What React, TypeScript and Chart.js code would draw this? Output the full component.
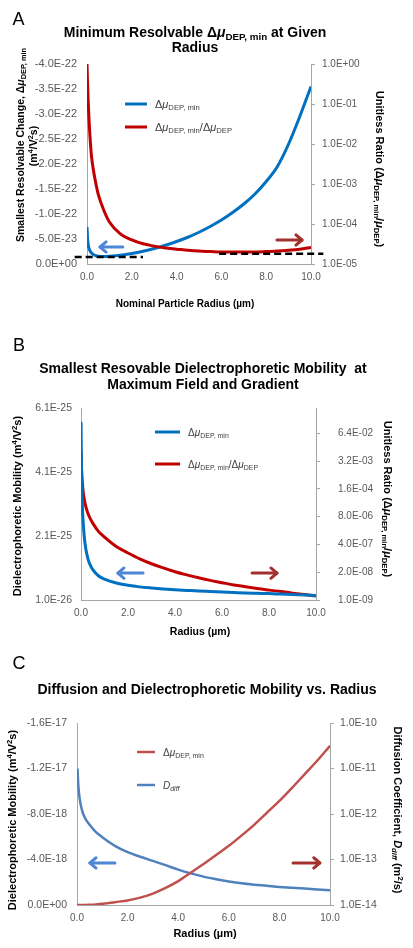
import React, { useEffect, useRef } from "react";
import { Chart, registerables } from "chart.js";

Chart.register(...registerables);

const FONT = '"Liberation Sans", Arial, Helvetica, sans-serif';
Chart.defaults.font.family = FONT;
const PAGE_W = 413;

// ===================== DATA =====================
// Panel A  (radius in µm)
const radiusA = [0, 0.02, 0.05, 0.1, 0.15, 0.2, 0.3, 0.4, 0.5, 0.75, 1, 1.5, 2, 2.5, 3, 3.5, 4, 4.5, 5, 5.5, 6, 6.5, 7, 7.5, 8, 8.5, 9, 9.5, 10];
// Δμ_DEP,min in units of 1e-23 m^4/V^2s (left axis)
const A_LEFT_UNIT = 1e-23;
const muMinA = [-7.4, -5.5, -4.0, -3.0, -2.5, -2.2, -1.85, -1.65, -1.55, -1.5, -1.55, -1.75, -2.1, -2.55, -3.1, -3.75, -4.5, -5.35, -6.35, -7.5, -8.8, -10.3, -12.0, -14.0, -16.5, -19.5, -24.0, -29.5, -35.5];
// Δμ_DEP,min / Δμ_DEP (right log axis)
const ratioA = [1.0, 0.4, 0.126, 0.0316, 0.0112, 5.0e-3, 2.0e-3, 1.0e-3, 5.6e-4, 2.2e-4, 1.12e-4, 5.6e-5, 4.0e-5, 3.2e-5, 2.8e-5, 2.5e-5, 2.35e-5, 2.2e-5, 2.1e-5, 2.05e-5, 2.0e-5, 2.0e-5, 2.0e-5, 2.0e-5, 2.05e-5, 2.1e-5, 2.2e-5, 2.35e-5, 2.6e-5];
const A_LEFT_TICKS = [-40, -35, -30, -25, -20, -15, -10, -5, 0];
const A_RIGHT_TICKS = [1e-5, 1e-4, 1e-3, 1e-2, 1e-1, 1];
// dashed threshold lines: [radius from, radius to], level
const dashLeftRangeA = [-0.55, 2.5];
const dashLeftLevelA = -1.4;
const dashRightRangeA = [5.9, 10.55];
const dashRightLevelA = 1.8e-5;

// Panel B
const radiusB = [0, 0.02, 0.05, 0.1, 0.15, 0.2, 0.3, 0.4, 0.5, 0.75, 1, 1.5, 2, 2.5, 3, 3.5, 4, 4.5, 5, 5.5, 6, 6.5, 7, 7.5, 8, 8.5, 9, 9.5, 10];
// Δμ_DEP,min in units of 1e-26 m^4/V^2s
const B_LEFT_UNIT = 1e-26;
const muMinB = [56.6, 43, 32, 24.5, 20, 17.2, 13.8, 11.8, 10.5, 8.5, 7.5, 6.3, 5.6, 5.1, 4.75, 4.45, 4.2, 4.0, 3.8, 3.65, 3.5, 3.35, 3.2, 3.1, 3.0, 2.85, 2.7, 2.55, 2.4];
const ratioB = [1.0e-2, 1.6e-3, 4.0e-4, 1.0e-4, 4.5e-5, 2.5e-5, 1.1e-5, 6.3e-6, 4.0e-6, 1.6e-6, 8.9e-7, 3.2e-7, 1.6e-7, 8.5e-8, 5.0e-8, 3.2e-8, 2.1e-8, 1.5e-8, 1.1e-8, 8.3e-9, 6.5e-9, 5.1e-9, 4.2e-9, 3.5e-9, 2.9e-9, 2.5e-9, 2.1e-9, 1.8e-9, 1.55e-9];
const B_LEFT_TICKS = [1, 21, 41, 61];
const B_RIGHT_TICKS = [1e-9, 2e-8, 4e-7, 8e-6, 1.6e-4, 3.2e-3, 6.4e-2];

// Panel C
const radiusC = [0, 0.02, 0.05, 0.1, 0.2, 0.3, 0.5, 0.75, 1, 1.5, 2, 2.5, 3, 3.5, 4, 4.5, 5, 5.5, 6, 6.5, 7, 7.5, 8, 8.5, 9, 9.5, 10];
// Δμ_DEP,min in units of 1e-18 m^4/V^2s
const C_LEFT_UNIT = 1e-18;
const muMinC = [0, 0, 0, 0, -0.002, -0.005, -0.02, -0.05, -0.1, -0.25, -0.4, -0.65, -1.0, -1.5, -2.1, -2.85, -3.6, -4.4, -5.2, -6.1, -7.05, -8.1, -9.15, -10.3, -11.5, -12.7, -14.0];
// D_diff in m^2/s
const dDiffC = [null, 1.0e-11, 4.5e-12, 2.3e-12, 1.2e-12, 8.5e-13, 5.8e-13, 4.0e-13, 3.1e-13, 2.0e-13, 1.45e-13, 1.15e-13, 9.3e-14, 7.5e-14, 6.0e-14, 4.95e-14, 4.2e-14, 3.7e-14, 3.3e-14, 3.0e-14, 2.8e-14, 2.65e-14, 2.5e-14, 2.4e-14, 2.3e-14, 2.2e-14, 2.1e-14];
const C_LEFT_TICKS = [-16, -12, -8, -4, 0];
const C_RIGHT_TICKS = [1e-14, 1e-13, 1e-12, 1e-11, 1e-10];

const X_TICKS = [0, 2, 4, 6, 8, 10];

// ===================== STYLE =====================
const BLUE = "#0070c0";
const RED = "#c00000";
const BLUE_C = "#4f81bd";
const RED_C = "#c0504d";
const ARROW_BLUE = "#4f86d6";
const ARROW_RED = "#a3302c";
const TICK_COLOR = "#595959";
const AXIS_COLOR = "#a6a6a6";
const LEGEND_COLOR = "#404040";

type Seg = { t: string; sub?: boolean; sup?: boolean; it?: boolean };

const S_DMU_MIN: Seg[] = [{ t: "Δ" }, { t: "μ", it: true }, { t: "DEP, min", sub: true }];
const S_RATIO_LEG: Seg[] = [...S_DMU_MIN, { t: "/Δ" }, { t: "μ", it: true }, { t: "DEP", sub: true }];
const S_RATIO_AXIS: Seg[] = [
  { t: "Unitless Ratio (Δ" }, { t: "μ", it: true }, { t: "DEP, min", sub: true },
  { t: "/" }, { t: "μ", it: true }, { t: "DEP", sub: true }, { t: ")" },
];
const S_UNITS4: Seg[] = [{ t: "(m" }, { t: "4", sup: true }, { t: "/V" }, { t: "2", sup: true }, { t: "s)" }];

function fmtE(v: number): string {
  const s = Number(v).toExponential(1);
  const [m, e] = s.split("e");
  const sign = e[0] === "-" ? "-" : "+";
  const d = e.replace(/^[+-]/, "").padStart(2, "0");
  return `${m === "-0.0" ? "0.0" : m}E${sign}${d}`;
}

function drawRich(
  ctx: CanvasRenderingContext2D,
  segs: Seg[],
  x: number,
  y: number,
  o: { size: number; bold?: boolean; color: string; rot?: number; align?: "left" | "center" }
) {
  ctx.save();
  ctx.translate(x, y);
  if (o.rot) ctx.rotate(o.rot);
  const fontFor = (s: Seg) => {
    const sz = s.sub || s.sup ? o.size * 0.7 : o.size;
    return `${s.it ? "italic " : ""}${o.bold ? "bold " : ""}${sz}px ${FONT}`;
  };
  let total = 0;
  const widths = segs.map((s) => {
    ctx.font = fontFor(s);
    const w = ctx.measureText(s.t).width;
    total += w;
    return w;
  });
  let cx = o.align === "left" ? 0 : -total / 2;
  ctx.fillStyle = o.color;
  ctx.textAlign = "left";
  ctx.textBaseline = "alphabetic";
  const base = o.size * 0.36;
  segs.forEach((s, i) => {
    ctx.font = fontFor(s);
    const dy = s.sub ? o.size * 0.22 : s.sup ? -o.size * 0.4 : 0;
    ctx.fillText(s.t, cx, base + dy);
    cx += widths[i];
  });
  ctx.restore();
}

function drawArrow(ctx: CanvasRenderingContext2D, x1: number, y1: number, x2: number, y2: number, color: string) {
  ctx.save();
  ctx.strokeStyle = color;
  ctx.lineWidth = 3;
  ctx.lineCap = "round";
  ctx.lineJoin = "round";
  ctx.beginPath();
  ctx.moveTo(x1, y1);
  ctx.lineTo(x2, y2);
  ctx.stroke();
  const a = Math.atan2(y2 - y1, x2 - x1);
  const hl = 8;
  ctx.beginPath();
  ctx.moveTo(x2 - hl * Math.cos(a - 0.7), y2 - hl * Math.sin(a - 0.7));
  ctx.lineTo(x2, y2);
  ctx.lineTo(x2 - hl * Math.cos(a + 0.7), y2 - hl * Math.sin(a + 0.7));
  ctx.stroke();
  ctx.restore();
}

type TextItem = { segs: Seg[]; x: number; y: number; size: number; bold?: boolean; color?: string; rot?: number; align?: "left" | "center" };
type LegendItem = { color: string; x1: number; x2: number; y: number; segs: Seg[]; tx: number; size: number; lw: number };
type ArrowItem = { from: [number, number]; to: [number, number]; color: string };
type Decor = { texts: TextItem[]; legend: LegendItem[]; arrows: ArrowItem[] };

function decorPlugin(d: Decor) {
  return {
    id: "decor",
    afterDraw(chart: any) {
      const ctx: CanvasRenderingContext2D = chart.ctx;
      const xs = chart.scales.x;
      const ys = chart.scales.y;
      d.arrows.forEach((a) => {
        drawArrow(ctx, xs.getPixelForValue(a.from[0]), ys.getPixelForValue(a.from[1]), xs.getPixelForValue(a.to[0]), ys.getPixelForValue(a.to[1]), a.color);
      });
      d.legend.forEach((l) => {
        ctx.save();
        ctx.strokeStyle = l.color;
        ctx.lineWidth = l.lw;
        ctx.beginPath();
        ctx.moveTo(l.x1, l.y);
        ctx.lineTo(l.x2, l.y);
        ctx.stroke();
        ctx.restore();
        drawRich(ctx, l.segs, l.tx, l.y, { size: l.size, color: LEGEND_COLOR, align: "left" });
      });
      d.texts.forEach((t) => {
        drawRich(ctx, t.segs, t.x, t.y, { size: t.size, bold: t.bold, color: t.color || "#000", rot: t.rot, align: t.align });
      });
    },
  };
}

function xScale(h: number, border: boolean) {
  return {
    type: "linear",
    position: "bottom",
    min: 0,
    max: 10,
    afterBuildTicks: (s: any) => { s.ticks = X_TICKS.map((value) => ({ value })); },
    afterFit: (s: any) => { s.height = h; },
    ticks: { callback: (v: any) => Number(v).toFixed(1), font: { size: 10 }, color: TICK_COLOR, padding: 7, maxRotation: 0, autoSkip: false },
    grid: { display: false, drawTicks: false },
    border: { display: border, color: AXIS_COLOR, width: 1 },
  };
}

function leftScale(o: { min: number; max: number; ticks: number[]; unit: number; reverse?: boolean; width: number; pad: number; size: number }) {
  return {
    type: "linear",
    position: "left",
    min: o.min,
    max: o.max,
    reverse: !!o.reverse,
    afterBuildTicks: (s: any) => { s.ticks = o.ticks.map((value) => ({ value })); },
    afterFit: (s: any) => { s.width = o.width; },
    ticks: { callback: (v: any) => fmtE(Number(v) * o.unit), font: { size: o.size }, color: TICK_COLOR, padding: o.pad, autoSkip: false },
    grid: { display: false, drawTicks: false },
    border: { display: true, color: AXIS_COLOR, width: 1 },
  };
}

function rightLogScale(o: { min: number; max: number; ticks: number[]; width: number; pad: number; size: number; tick: number }) {
  return {
    type: "logarithmic",
    position: "right",
    min: o.min,
    max: o.max,
    afterBuildTicks: (s: any) => { s.ticks = o.ticks.map((value) => ({ value })); },
    afterFit: (s: any) => { s.width = o.width; },
    ticks: { callback: (v: any) => fmtE(Number(v)), font: { size: o.size }, color: TICK_COLOR, padding: o.pad, autoSkip: false },
    grid: { display: o.tick > 0, drawOnChartArea: false, drawTicks: o.tick > 0, tickLength: o.tick, color: AXIS_COLOR },
    border: { display: true, color: AXIS_COLOR, width: 1 },
  };
}

const pts = (xs: number[], ys: (number | null)[]) => xs.map((x, i) => ({ x, y: ys[i] }));

function baseOptions(padTop: number, scales: any) {
  return {
    responsive: false,
    animation: false,
    events: [],
    layout: { padding: { top: padTop, left: 0, right: 0, bottom: 0 } },
    plugins: { legend: { display: false }, tooltip: { enabled: false }, title: { display: false } },
    elements: { point: { radius: 0 }, line: { cubicInterpolationMode: "monotone" } },
    scales,
  };
}

// ===================== PANEL CONFIGS =====================
function configA() {
  const decor: Decor = {
    texts: [
      { segs: [{ t: "A" }], x: 18.5, y: 19, size: 18 },
      { segs: [{ t: "Minimum Resolvable Δ" }, { t: "μ", it: true }, { t: "DEP, min", sub: true }, { t: " at Given" }], x: 195, y: 32, size: 14, bold: true },
      { segs: [{ t: "Radius" }], x: 195, y: 47, size: 14, bold: true },
      { segs: [{ t: "Smallest Resolvable Change, Δ" }, { t: "μ", it: true }, { t: "DEP, min", sub: true }], x: 20, y: 145, size: 10.5, bold: true, rot: -Math.PI / 2 },
      { segs: S_UNITS4, x: 33, y: 146, size: 10.5, bold: true, rot: -Math.PI / 2 },
      { segs: S_RATIO_AXIS, x: 380, y: 169, size: 11, bold: true, rot: Math.PI / 2 },
      { segs: [{ t: "Nominal Particle Radius (µm)" }], x: 185, y: 303, size: 10, bold: true },
    ],
    legend: [
      { color: BLUE, x1: 125, x2: 147, y: 104, segs: S_DMU_MIN, tx: 155, size: 11, lw: 3 },
      { color: RED, x1: 125, x2: 147, y: 127, segs: S_RATIO_LEG, tx: 155, size: 11, lw: 3 },
    ],
    arrows: [
      { from: [1.6, -3.4], to: [0.58, -3.4], color: ARROW_BLUE },
      { from: [8.48, -4.8], to: [9.6, -4.8], color: ARROW_RED },
    ],
  };
  return {
    type: "line",
    data: {
      datasets: [
        { data: [{ x: dashLeftRangeA[0], y: dashLeftLevelA }, { x: dashLeftRangeA[1], y: dashLeftLevelA }], yAxisID: "y", borderColor: "#000", borderWidth: 2.5, borderDash: [7, 4], clip: false, order: 0 },
        { data: [{ x: dashRightRangeA[0], y: dashRightLevelA }, { x: dashRightRangeA[1], y: dashRightLevelA }], yAxisID: "y1", borderColor: "#000", borderWidth: 2.5, borderDash: [7, 4], clip: false, order: 0 },
        { data: pts(radiusA, muMinA), yAxisID: "y", borderColor: BLUE, borderWidth: 3, order: 2 },
        { data: pts(radiusA, ratioA), yAxisID: "y1", borderColor: RED, borderWidth: 3, order: 1 },
      ],
    },
    options: baseOptions(64, {
      x: xScale(46, true),
      y: leftScale({ min: -40, max: 0, ticks: A_LEFT_TICKS, unit: A_LEFT_UNIT, reverse: true, width: 87, pad: 10, size: 11 }),
      y1: rightLogScale({ min: 1e-5, max: 1, ticks: A_RIGHT_TICKS, width: PAGE_W - 311, pad: 7, size: 10, tick: 4 }),
    }),
    plugins: [decorPlugin(decor)],
  };
}

const OFF_B = 310;
function configB() {
  const decor: Decor = {
    texts: [
      { segs: [{ t: "B" }], x: 19, y: 345 - OFF_B, size: 18 },
      { segs: [{ t: "Smallest Resovable Dielectrophoretic Mobility  at" }], x: 203, y: 368 - OFF_B, size: 14, bold: true },
      { segs: [{ t: "Maximum Field and Gradient" }], x: 203, y: 384 - OFF_B, size: 14, bold: true },
      { segs: [{ t: "Dielectrophoretic Mobility " }, ...S_UNITS4], x: 17, y: 506 - OFF_B, size: 11, bold: true, rot: -Math.PI / 2 },
      { segs: S_RATIO_AXIS, x: 388, y: 499 - OFF_B, size: 11, bold: true, rot: Math.PI / 2 },
      { segs: [{ t: "Radius (µm)" }], x: 200, y: 631 - OFF_B, size: 10.5, bold: true },
    ],
    legend: [
      { color: BLUE, x1: 155, x2: 180, y: 432 - OFF_B, segs: S_DMU_MIN, tx: 188, size: 10, lw: 3 },
      { color: RED, x1: 155, x2: 180, y: 464 - OFF_B, segs: S_RATIO_LEG, tx: 188, size: 10, lw: 3 },
    ],
    arrows: [
      { from: [2.64, 9.4], to: [1.57, 9.4], color: ARROW_BLUE },
      { from: [7.28, 9.4], to: [8.34, 9.4], color: ARROW_RED },
    ],
  };
  return {
    type: "line",
    data: {
      datasets: [
        { data: pts(radiusB, muMinB), yAxisID: "y", borderColor: BLUE, borderWidth: 3, order: 1 },
        { data: pts(radiusB, ratioB), yAxisID: "y1", borderColor: RED, borderWidth: 3, order: 2 },
      ],
    },
    options: baseOptions(98, {
      x: xScale(40, true),
      y: leftScale({ min: 1, max: 61, ticks: B_LEFT_TICKS, unit: B_LEFT_UNIT, width: 81, pad: 9, size: 10.5 }),
      y1: rightLogScale({ min: 1e-9, max: 1, ticks: B_RIGHT_TICKS, width: PAGE_W - 316, pad: 18, size: 10, tick: 4 }),
    }),
    plugins: [decorPlugin(decor)],
  };
}

const OFF_C = 640;
function configC() {
  const decor: Decor = {
    texts: [
      { segs: [{ t: "C" }], x: 19, y: 663 - OFF_C, size: 18 },
      { segs: [{ t: "Diffusion and Dielectrophoretic Mobility vs. Radius" }], x: 207, y: 689 - OFF_C, size: 14, bold: true },
      { segs: [{ t: "Dielectrophoretic Mobility " }, ...S_UNITS4], x: 12, y: 820 - OFF_C, size: 11, bold: true, rot: -Math.PI / 2 },
      { segs: [{ t: "Diffusion Coefficient, " }, { t: "D", it: true }, { t: "diff", sub: true, it: true }, { t: " (m" }, { t: "2", sup: true }, { t: "/s)" }], x: 398, y: 810 - OFF_C, size: 11, bold: true, rot: Math.PI / 2 },
      { segs: [{ t: "Radius (µm)" }], x: 205, y: 933 - OFF_C, size: 11, bold: true },
    ],
    legend: [
      { color: RED_C, x1: 137, x2: 155, y: 752 - OFF_C, segs: S_DMU_MIN, tx: 163, size: 10, lw: 2.5 },
      { color: BLUE_C, x1: 137, x2: 155, y: 785 - OFF_C, segs: [{ t: "D", it: true }, { t: "diff", sub: true, it: true }], tx: 163, size: 10, lw: 2.5 },
    ],
    arrows: [
      { from: [1.5, -3.7], to: [0.51, -3.7], color: ARROW_BLUE },
      { from: [8.54, -3.7], to: [9.6, -3.7], color: ARROW_RED },
    ],
  };
  return {
    type: "line",
    data: {
      datasets: [
        { data: pts(radiusC, muMinC), yAxisID: "y", borderColor: RED_C, borderWidth: 2.5, order: 1 },
        { data: pts(radiusC, dDiffC), yAxisID: "y1", borderColor: BLUE_C, borderWidth: 2.5, order: 2, spanGaps: true },
      ],
    },
    options: baseOptions(83, {
      x: xScale(43, true),
      y: leftScale({ min: -16, max: 0, ticks: C_LEFT_TICKS, unit: C_LEFT_UNIT, reverse: true, width: 77, pad: 10, size: 10.5 }),
      y1: rightLogScale({ min: 1e-14, max: 1e-10, ticks: C_RIGHT_TICKS, width: PAGE_W - 330, pad: 6, size: 10.5, tick: 4 }),
    }),
    plugins: [decorPlugin(decor)],
  };
}

function ChartPanel({ top, height, make }: { top: number; height: number; make: () => any }) {
  const ref = useRef<HTMLCanvasElement>(null);
  useEffect(() => {
    const chart = new Chart(ref.current as HTMLCanvasElement, make());
    return () => chart.destroy();
  }, []);
  return (
    <canvas
      ref={ref}
      width={PAGE_W}
      height={height}
      style={{ position: "absolute", left: 0, top, width: PAGE_W, height, display: "block" }}
    />
  );
}

export default function App() {
  return (
    <div style={{ position: "absolute", left: 0, top: 0, width: PAGE_W, height: 948, background: "#fff", overflow: "hidden" }}>
      <ChartPanel top={0} height={310} make={configA} />
      <ChartPanel top={310} height={330} make={configB} />
      <ChartPanel top={640} height={308} make={configC} />
    </div>
  );
}
